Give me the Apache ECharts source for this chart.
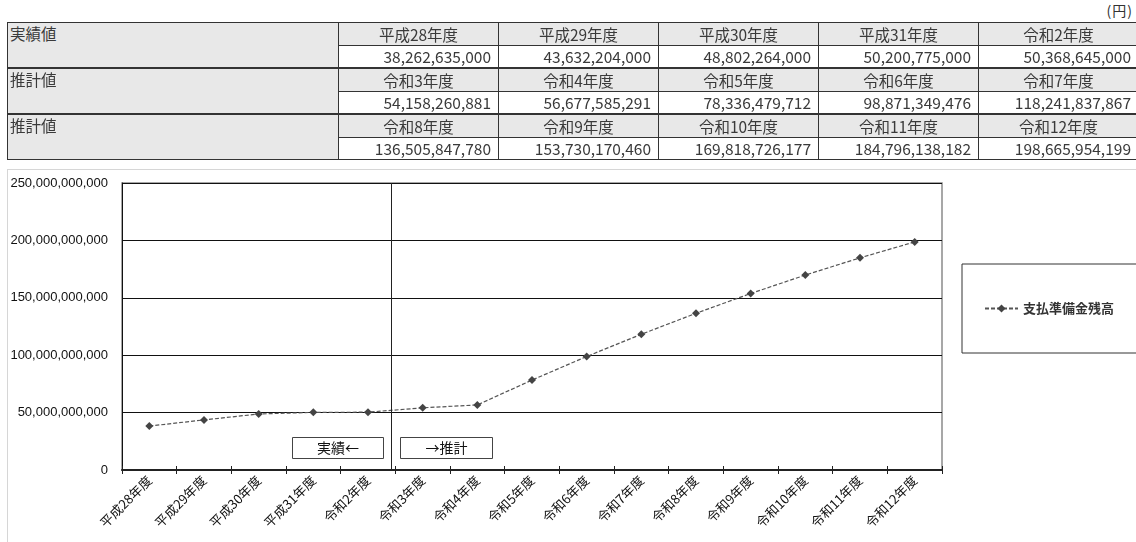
<!DOCTYPE html>
<html>
<head>
<meta charset="utf-8">
<script src="https://cdn.jsdelivr.net/npm/echarts@6/dist/echarts.min.js"></script>
<style>
  html, body { margin: 0; padding: 0; background: #fff; }
  #page { position: relative; width: 1136px; height: 542px; overflow: hidden; }
  #frame { position: absolute; left: 7px; top: 169px; width: 1140px; height: 380px; border: 1px solid #d6d6d6; box-sizing: border-box; }
  #chart { position: absolute; left: 0; top: 0; width: 1136px; height: 542px; }
  #unit { position: absolute; right: 3px; top: 0px; font: 14px "Noto Sans CJK JP"; color: #333; letter-spacing: 1px; }
  #tbl { position: absolute; left: 7px; top: 22px; border-collapse: collapse; table-layout: fixed; width: 1132px;
         font: 15.5px "Noto Sans CJK JP"; color: #3a3a3a; z-index: 2; }
  #tbl td { border: 1px solid #333; height: 21.5px; line-height: 20px; padding: 0; overflow: hidden; white-space: nowrap; }
  #tbl td.grp { background: #e8e8e8; vertical-align: top; padding-left: 2px; }
  #tbl td.hd { background: #e8e8e8; text-align: center; }
  #tbl td.val { background: #fff; text-align: right; padding-right: 7px; }
  #tbl tr.top td { border-top: 2px solid #333; }
</style>
</head>
<body>
<div id="page">
  <div id="frame"></div>
  <div id="unit">(円)</div>
  <table id="tbl"></table>
  <div id="chart"></div>
</div>
<script>
// fiscal years and reserve balance (円)
const years = ['平成28年度', '平成29年度', '平成30年度', '平成31年度', '令和2年度',
  '令和3年度', '令和4年度', '令和5年度', '令和6年度', '令和7年度',
  '令和8年度', '令和9年度', '令和10年度', '令和11年度', '令和12年度'];
const reserve = [38262635000, 43632204000, 48802264000, 50200775000, 50368645000,
  54158260881, 56677585291, 78336479712, 98871349476, 118241837867,
  136505847780, 153730170460, 169818726177, 184796138182, 198665954199];
const groupNames = ['実績値', '推計値', '推計値'];
const seriesName = '支払準備金残高';
const yMax = 250000000000;
const yStep = 50000000000;
const actualCount = 5; // first 5 years are actual, rest estimated

// table
const tbl = document.getElementById('tbl');
let html = '<colgroup><col style="width:331px">' + '<col style="width:160px">'.repeat(5) + '</colgroup>';
groupNames.forEach((g, gi) => {
  const ys = years.slice(gi * 5, gi * 5 + 5);
  const vs = reserve.slice(gi * 5, gi * 5 + 5);
  html += '<tr class="' + (gi > 0 ? 'top' : '') + '"><td class="grp" rowspan="2">' + g + '</td>' +
    ys.map(y => '<td class="hd">' + y + '</td>').join('') + '</tr>';
  html += '<tr>' + vs.map(v => '<td class="val">' + v.toLocaleString('en-US') + '</td>').join('') + '</tr>';
});
tbl.innerHTML = html;

const chart = echarts.init(document.getElementById('chart'));
const option = {
  animation: false,
  grid: { left: 122, top: 183, width: 820, height: 287, show: true, borderColor: '#8a8a8a', borderWidth: 1.5 },
  legend: {
    left: 962, top: 264,
    padding: [38, 40, 38, 22],
    borderColor: '#333', borderWidth: 1,
    itemWidth: 33, itemHeight: 10,
    textStyle: { fontSize: 13, fontWeight: 'bold', color: '#333', fontFamily: 'Noto Sans CJK JP' },
    data: [seriesName]
  },
  xAxis: [{
    type: 'category',
    data: years,
    boundaryGap: true,
    axisLine: { lineStyle: { color: '#222', width: 2 } },
    axisTick: { show: true, length: 4, lineStyle: { color: '#222' } },
    axisLabel: { rotate: 45, margin: 8, fontSize: 13, color: '#111', fontFamily: 'Noto Sans CJK JP', interval: 0 }
  }, {
    type: 'value', min: 0, max: years.length, interval: 1,
    position: 'bottom',
    axisLine: { show: false },
    axisTick: { show: true, inside: true, length: 4, lineStyle: { color: '#222' } },
    axisLabel: { show: false },
    splitLine: { show: false }
  }],
  yAxis: {
    type: 'value', min: 0, max: yMax, interval: yStep,
    axisLine: { show: true, lineStyle: { color: '#111', width: 1 } },
    axisTick: { show: false },
    splitLine: { lineStyle: { color: '#111', width: 1 } },
    axisLabel: {
      margin: 14, fontSize: 13, color: '#111', fontFamily: 'Liberation Sans',
      formatter: v => v.toLocaleString('en-US')
    }
  },
  series: [{
    name: seriesName,
    type: 'line',
    data: reserve,
    symbol: 'diamond',
    symbolSize: 8,
    itemStyle: { color: '#444' },
    lineStyle: { color: '#555', width: 1.2, type: [4, 2] }
  }, {
    name: 'divider',
    type: 'line',
    xAxisIndex: 1,
    data: [],
    markLine: {
      silent: true, symbol: 'none', label: { show: false },
      lineStyle: { color: '#222', width: 1, type: 'solid' },
      data: [{ xAxis: actualCount - 0.07 }]
    }
  }],
  graphic: [{
    type: 'group', left: 292, top: 437,
    children: [
      { type: 'rect', shape: { x: 0, y: 0, width: 91, height: 21 }, style: { fill: '#fff', stroke: '#444', lineWidth: 1 } },
      { type: 'text', x: 45.5, y: 10.5, style: { text: '実績←', fontSize: 14, fill: '#111', align: 'center', verticalAlign: 'middle', fontFamily: 'Noto Sans CJK JP' } }
    ]
  }, {
    type: 'group', left: 400, top: 437,
    children: [
      { type: 'rect', shape: { x: 0, y: 0, width: 92, height: 21 }, style: { fill: '#fff', stroke: '#444', lineWidth: 1 } },
      { type: 'text', x: 46, y: 10.5, style: { text: '→推計', fontSize: 14, fill: '#111', align: 'center', verticalAlign: 'middle', fontFamily: 'Noto Sans CJK JP' } }
    ]
  }]
};
chart.setOption(option);
</script>
</body>
</html>
